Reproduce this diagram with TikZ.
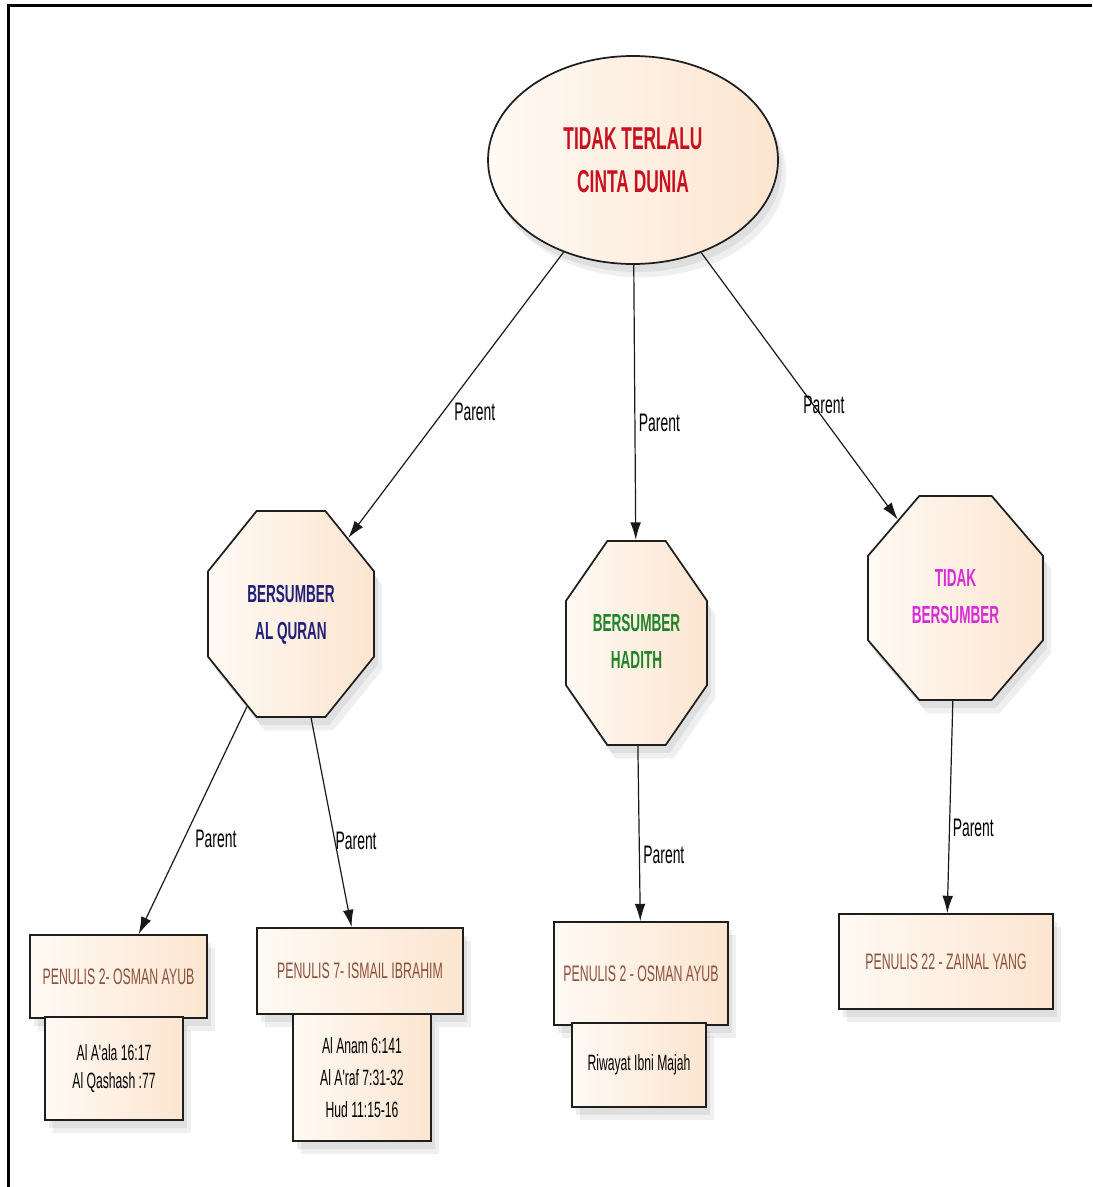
\documentclass[tikz,border=0pt]{standalone}
\usepackage{fontspec}
\usepackage{graphicx}
\newfontfamily\nar[FakeStretch=0.55]{Liberation Sans}
\usetikzlibrary{shapes.geometric,shadows,arrows.meta}
\definecolor{peachL}{RGB}{255,250,244}
\definecolor{peachR}{RGB}{252,229,208}
\definecolor{titlered}{RGB}{200,16,30}
\definecolor{navyt}{RGB}{32,32,120}
\definecolor{greent}{RGB}{34,130,40}
\definecolor{magt}{RGB}{215,45,215}
\definecolor{brownt}{RGB}{140,80,60}
\definecolor{edgec}{RGB}{30,30,30}
\tikzset{
  softshadow/.style={drop shadow={shadow xshift=6pt,shadow yshift=-10pt,opacity=.10,fill=black!60},
                     drop shadow={shadow xshift=3pt,shadow yshift=-6pt,opacity=.12,fill=black!60}},
  base/.style={draw=edgec, line width=1.3pt, left color=peachL, right color=peachR, softshadow},
  octa/.style={regular polygon, regular polygon sides=8, base, inner sep=0pt, transform shape,
               font=\nar\bfseries\fontsize{18.5}{27.75}\selectfont},
  box/.style={rectangle, base, inner sep=0pt, align=center},
  penulis/.style={box, text=brownt, font=\nar\fontsize{16.8}{20}\selectfont},
  ref/.style={box, text=black, font=\nar\fontsize{16.6}{#1}\selectfont},
  conn/.style={draw=black!90, line width=0.9pt, -{Latex[length=13pt,width=8pt]}},
  lab/.style={font=\nar\fontsize{19}{22}\selectfont, inner sep=1pt, text=black}
}
\begin{document}
\begin{tikzpicture}[x=0.75pt,y=0.75pt]
\useasboundingbox (0,0) rectangle (1092,-1187);
% frame
\draw[line width=2.25pt] (1092,-6) -- (8,-6) -- (8,-1187);

% root
\node[ellipse, base, minimum width=217.5pt, minimum height=156pt, inner sep=0pt,
      font=\nar\bfseries\fontsize{23.7}{32}\selectfont, text=titlered, align=center]
      (E) at (633,-160) {TIDAK TERLALU\\CINTA DUNIA};

% octagons
\begin{scope}[shift={(291,-614)}]
\node[octa, minimum size=134.8pt, yscale=1.24, text=navyt] (Q) at (0,0)
  {\scalebox{1}[0.806]{\begin{tabular}{@{}c@{}}BERSUMBER\\AL QURAN\end{tabular}}};
\end{scope}
\begin{scope}[shift={(636.5,-643)}]
\node[octa, minimum size=114.4pt, yscale=1.447, text=greent] (H) at (0,0)
  {\scalebox{1}[0.691]{\begin{tabular}{@{}c@{}}BERSUMBER\\HADITH\end{tabular}}};
\end{scope}
\begin{scope}[shift={(955.5,-598)}]
\node[octa, minimum size=142pt, yscale=1.166, text=magt] (T) at (0,0)
  {\scalebox{1}[0.858]{\begin{tabular}{@{}c@{}}TIDAK\\BERSUMBER\end{tabular}}};
\end{scope}

% author boxes and reference boxes
\node[penulis, minimum width=132.75pt, minimum height=62.25pt] (B1) at (118.5,-976.5) {PENULIS 2- OSMAN AYUB};
\node[ref=21pt, minimum width=103.5pt, minimum height=77.25pt] (S1) at (114,-1068.5) {Al A'ala 16:17\\Al Qashash :77};

\node[penulis, minimum width=154.5pt, minimum height=64.5pt] (B2) at (360,-971) {PENULIS 7- ISMAIL IBRAHIM};
\node[ref=24pt, minimum width=103.5pt, minimum height=95.25pt] (S2) at (362,-1077.5) {Al Anam 6:141\\Al A'raf 7:31-32\\Hud 11:15-16};

\node[penulis, minimum width=130.5pt, minimum height=77.25pt] (B3) at (641,-973.5) {PENULIS 2 - OSMAN AYUB};
\node[ref=21pt, minimum width=100.5pt, minimum height=63pt] (S3) at (639,-1065) {Riwayat Ibni Majah};

\node[penulis, minimum width=160.5pt, minimum height=71.25pt] (B4) at (946,-961.5) {PENULIS 22 - ZAINAL YANG};

% connectors
\draw[conn] (E) -- node[lab, pos=0.56, anchor=west, xshift=7pt] {Parent} (Q);
\draw[conn] (E) -- node[lab, pos=0.575, anchor=west, xshift=1.5pt] {Parent} (H);
\draw[conn] (E) -- node[lab, pos=0.57, xshift=8pt] {Parent} (T);
\draw[conn] (Q) -- node[lab, pos=0.58, anchor=west, xshift=7pt] {Parent} (B1);
\draw[conn] (Q) -- node[lab, pos=0.59, anchor=west, xshift=-1pt] {Parent} (B2);
\draw[conn] (H) -- node[lab, pos=0.62, anchor=west, xshift=1.5pt] {Parent} (B3);
\draw[conn] (T) -- node[lab, pos=0.6, anchor=west, xshift=1pt] {Parent} (B4);
\end{tikzpicture}
\end{document}
